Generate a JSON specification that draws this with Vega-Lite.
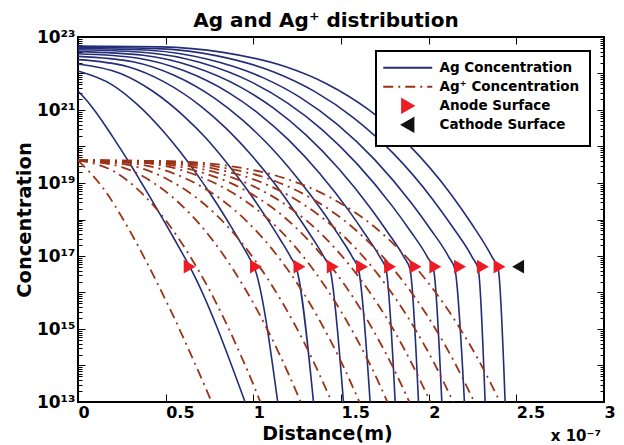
{
"$schema": "https://vega.github.io/schema/vega-lite/v6.json",
"width": 526, "height": 365,
"autosize": {"type": "none"},
"padding": {"left": 78, "top": 37, "right": 20, "bottom": 43},
"background": "white",
"title": {"text": "Ag and Ag⁺ distribution", "font": "DejaVu Sans", "fontSize": 20, "fontWeight": "bold", "color": "black", "dx": -15, "offset": -3},
"datasets": {
"lines": [
{"s":"Ag","k":1,"x":0,"c":3.31e21},{"s":"Ag","k":1,"x":0.05,"c":1.82e21},{"s":"Ag","k":1,"x":0.1,"c":8.91e20},{"s":"Ag","k":1,"x":0.15,"c":4.07e20},{"s":"Ag","k":1,"x":0.2,"c":1.78e20},{"s":"Ag","k":1,"x":0.25,"c":7.59e19},{"s":"Ag","k":1,"x":0.3,"c":3.16e19},{"s":"Ag","k":1,"x":0.35,"c":1.26e19},{"s":"Ag","k":1,"x":0.4,"c":5.01e18},{"s":"Ag","k":1,"x":0.45,"c":1.95e18},{"s":"Ag","k":1,"x":0.5,"c":7.59e17},{"s":"Ag","k":1,"x":0.55,"c":2.88e17},{"s":"Ag","k":1,"x":0.6,"c":1.07e17},{"s":"Ag","k":1,"x":0.637,"c":5.13e16},{"s":"Ag","k":1,"x":0.953,"c":1e13},
{"s":"Ag","k":2,"x":0,"c":1.17e22},{"s":"Ag","k":2,"x":0.195,"c":4.9e21},{"s":"Ag","k":2,"x":0.341,"c":1.38e21},{"s":"Ag","k":2,"x":0.4875,"c":2.57e20},{"s":"Ag","k":2,"x":0.585,"c":6.92e19},{"s":"Ag","k":2,"x":0.6825,"c":1.62e19},{"s":"Ag","k":2,"x":0.78,"c":3.31e18},{"s":"Ag","k":2,"x":0.8775,"c":5.89e17},{"s":"Ag","k":2,"x":0.926,"c":2.4e17},{"s":"Ag","k":2,"x":0.975,"c":9.33e16},{"s":"Ag","k":2,"x":1.01,"c":4.27e16},{"s":"Ag","k":2,"x":1.139,"c":1e13},
{"s":"Ag","k":3,"x":0,"c":1.82e22},{"s":"Ag","k":3,"x":0.2426,"c":1e22},{"s":"Ag","k":3,"x":0.4246,"c":3.31e21},{"s":"Ag","k":3,"x":0.6065,"c":6.61e20},{"s":"Ag","k":3,"x":0.7278,"c":1.74e20},{"s":"Ag","k":3,"x":0.8491,"c":3.55e19},{"s":"Ag","k":3,"x":0.9704,"c":6.03e18},{"s":"Ag","k":3,"x":1.0917,"c":8.32e17},{"s":"Ag","k":3,"x":1.1524,"c":2.88e17},{"s":"Ag","k":3,"x":1.213,"c":9.33e16},{"s":"Ag","k":3,"x":1.248,"c":4.27e16},{"s":"Ag","k":3,"x":1.343,"c":1e13},
{"s":"Ag","k":4,"x":0,"c":2.4e22},{"s":"Ag","k":4,"x":0.2806,"c":1.55e22},{"s":"Ag","k":4,"x":0.491,"c":5.89e21},{"s":"Ag","k":4,"x":0.7015,"c":1.26e21},{"s":"Ag","k":4,"x":0.8418,"c":3.24e20},{"s":"Ag","k":4,"x":0.9821,"c":6.31e19},{"s":"Ag","k":4,"x":1.1224,"c":9.55e18},{"s":"Ag","k":4,"x":1.2627,"c":1.07e18},{"s":"Ag","k":4,"x":1.3329,"c":3.31e17},{"s":"Ag","k":4,"x":1.403,"c":9.33e16},{"s":"Ag","k":4,"x":1.438,"c":4.27e16},{"s":"Ag","k":4,"x":1.514,"c":1e13},
{"s":"Ag","k":5,"x":0,"c":2.95e22},{"s":"Ag","k":5,"x":0.313,"c":2.09e22},{"s":"Ag","k":5,"x":0.5478,"c":8.91e21},{"s":"Ag","k":5,"x":0.7825,"c":2.04e21},{"s":"Ag","k":5,"x":0.939,"c":5.25e20},{"s":"Ag","k":5,"x":1.0955,"c":1e20},{"s":"Ag","k":5,"x":1.252,"c":1.35e19},{"s":"Ag","k":5,"x":1.4085,"c":1.35e18},{"s":"Ag","k":5,"x":1.4868,"c":3.72e17},{"s":"Ag","k":5,"x":1.565,"c":9.33e16},{"s":"Ag","k":5,"x":1.6,"c":4.27e16},{"s":"Ag","k":5,"x":1.666,"c":1e13},
{"s":"Ag","k":6,"x":0,"c":3.47e22},{"s":"Ag","k":6,"x":0.3444,"c":2.63e22},{"s":"Ag","k":6,"x":0.6027,"c":1.2e22},{"s":"Ag","k":6,"x":0.861,"c":2.95e21},{"s":"Ag","k":6,"x":1.0332,"c":7.76e20},{"s":"Ag","k":6,"x":1.2054,"c":1.45e20},{"s":"Ag","k":6,"x":1.3776,"c":1.86e19},{"s":"Ag","k":6,"x":1.5498,"c":1.62e18},{"s":"Ag","k":6,"x":1.6359,"c":4.07e17},{"s":"Ag","k":6,"x":1.722,"c":9.33e16},{"s":"Ag","k":6,"x":1.757,"c":4.27e16},{"s":"Ag","k":6,"x":1.809,"c":1e13},
{"s":"Ag","k":7,"x":0,"c":3.98e22},{"s":"Ag","k":7,"x":0.3718,"c":3.16e22},{"s":"Ag","k":7,"x":0.6507,"c":1.58e22},{"s":"Ag","k":7,"x":0.9295,"c":4.17e21},{"s":"Ag","k":7,"x":1.1154,"c":1.12e21},{"s":"Ag","k":7,"x":1.3013,"c":2.04e20},{"s":"Ag","k":7,"x":1.4872,"c":2.45e19},{"s":"Ag","k":7,"x":1.6731,"c":1.91e18},{"s":"Ag","k":7,"x":1.7661,"c":4.47e17},{"s":"Ag","k":7,"x":1.859,"c":9.33e16},{"s":"Ag","k":7,"x":1.894,"c":4.27e16},{"s":"Ag","k":7,"x":1.942,"c":1e13},
{"s":"Ag","k":8,"x":0,"c":4.47e22},{"s":"Ag","k":8,"x":0.3986,"c":3.72e22},{"s":"Ag","k":8,"x":0.6976,"c":2e22},{"s":"Ag","k":8,"x":0.9965,"c":5.62e21},{"s":"Ag","k":8,"x":1.1958,"c":1.55e21},{"s":"Ag","k":8,"x":1.3951,"c":2.82e20},{"s":"Ag","k":8,"x":1.5944,"c":3.24e19},{"s":"Ag","k":8,"x":1.7937,"c":2.29e18},{"s":"Ag","k":8,"x":1.8934,"c":5.01e17},{"s":"Ag","k":8,"x":1.993,"c":9.33e16},{"s":"Ag","k":8,"x":2.028,"c":4.27e16},{"s":"Ag","k":8,"x":2.075,"c":1e13},
{"s":"Ag","k":9,"x":0,"c":4.9e22},{"s":"Ag","k":9,"x":0.423,"c":4.27e22},{"s":"Ag","k":9,"x":0.7403,"c":2.45e22},{"s":"Ag","k":9,"x":1.0575,"c":7.59e21},{"s":"Ag","k":9,"x":1.269,"c":2.19e21},{"s":"Ag","k":9,"x":1.4805,"c":3.98e20},{"s":"Ag","k":9,"x":1.692,"c":4.37e19},{"s":"Ag","k":9,"x":1.9035,"c":2.75e18},{"s":"Ag","k":9,"x":2.0093,"c":5.5e17},{"s":"Ag","k":9,"x":2.115,"c":9.33e16},{"s":"Ag","k":9,"x":2.15,"c":4.27e16},{"s":"Ag","k":9,"x":2.204,"c":1e13},
{"s":"Ag","k":10,"x":0,"c":5.25e22},{"s":"Ag","k":10,"x":0.4496,"c":4.79e22},{"s":"Ag","k":10,"x":0.7868,"c":3.09e22},{"s":"Ag","k":10,"x":1.124,"c":1.07e22},{"s":"Ag","k":10,"x":1.3488,"c":3.24e21},{"s":"Ag","k":10,"x":1.5736,"c":6.03e20},{"s":"Ag","k":10,"x":1.7984,"c":6.46e19},{"s":"Ag","k":10,"x":2.0232,"c":3.55e18},{"s":"Ag","k":10,"x":2.1356,"c":6.31e17},{"s":"Ag","k":10,"x":2.248,"c":9.33e16},{"s":"Ag","k":10,"x":2.283,"c":4.27e16},{"s":"Ag","k":10,"x":2.322,"c":1e13},
{"s":"Ag","k":11,"x":0,"c":5.62e22},{"s":"Ag","k":11,"x":0.4724,"c":5.37e22},{"s":"Ag","k":11,"x":0.8267,"c":3.8e22},{"s":"Ag","k":11,"x":1.181,"c":1.55e22},{"s":"Ag","k":11,"x":1.4172,"c":5.25e21},{"s":"Ag","k":11,"x":1.6534,"c":1.05e21},{"s":"Ag","k":11,"x":1.8896,"c":1.07e20},{"s":"Ag","k":11,"x":2.1258,"c":5.01e18},{"s":"Ag","k":11,"x":2.2439,"c":7.76e17},{"s":"Ag","k":11,"x":2.362,"c":9.33e16},{"s":"Ag","k":11,"x":2.397,"c":4.27e16},{"s":"Ag","k":11,"x":2.436,"c":1e13},
{"s":"Ag+","k":1,"x":0,"c":4.17e19},{"s":"Ag+","k":1,"x":0.1524,"c":6.31e18},{"s":"Ag+","k":1,"x":0.2667,"c":8.51e17},{"s":"Ag+","k":1,"x":0.381,"c":8.51e16},{"s":"Ag+","k":1,"x":0.4572,"c":1.62e16},{"s":"Ag+","k":1,"x":0.5334,"c":2.88e15},{"s":"Ag+","k":1,"x":0.6096,"c":4.68e14},{"s":"Ag+","k":1,"x":0.6858,"c":7.08e13},{"s":"Ag+","k":1,"x":0.7239,"c":2.69e13},{"s":"Ag+","k":1,"x":0.762,"c":1e13},
{"s":"Ag+","k":2,"x":0,"c":4.17e19},{"s":"Ag+","k":2,"x":0.208,"c":2.04e19},{"s":"Ag+","k":2,"x":0.364,"c":5.25e18},{"s":"Ag+","k":2,"x":0.52,"c":7.08e17},{"s":"Ag+","k":2,"x":0.624,"c":1.29e17},{"s":"Ag+","k":2,"x":0.728,"c":1.82e16},{"s":"Ag+","k":2,"x":0.832,"c":1.95e15},{"s":"Ag+","k":2,"x":0.936,"c":1.58e14},{"s":"Ag+","k":2,"x":0.988,"c":4.17e13},{"s":"Ag+","k":2,"x":1.04,"c":1e13},
{"s":"Ag+","k":3,"x":0,"c":4.17e19},{"s":"Ag+","k":3,"x":0.254,"c":2.69e19},{"s":"Ag+","k":3,"x":0.4445,"c":9.12e18},{"s":"Ag+","k":3,"x":0.635,"c":1.51e18},{"s":"Ag+","k":3,"x":0.762,"c":2.95e17},{"s":"Ag+","k":3,"x":0.889,"c":3.98e16},{"s":"Ag+","k":3,"x":1.016,"c":3.72e15},{"s":"Ag+","k":3,"x":1.143,"c":2.34e14},{"s":"Ag+","k":3,"x":1.2065,"c":5.13e13},{"s":"Ag+","k":3,"x":1.27,"c":1e13},
{"s":"Ag+","k":4,"x":0,"c":4.17e19},{"s":"Ag+","k":4,"x":0.2894,"c":3.09e19},{"s":"Ag+","k":4,"x":0.5065,"c":1.29e19},{"s":"Ag+","k":4,"x":0.7235,"c":2.57e18},{"s":"Ag+","k":4,"x":0.8682,"c":5.37e17},{"s":"Ag+","k":4,"x":1.0129,"c":7.24e16},{"s":"Ag+","k":4,"x":1.1576,"c":6.17e15},{"s":"Ag+","k":4,"x":1.3023,"c":3.24e14},{"s":"Ag+","k":4,"x":1.3747,"c":6.03e13},{"s":"Ag+","k":4,"x":1.447,"c":1e13},
{"s":"Ag+","k":5,"x":0,"c":4.17e19},{"s":"Ag+","k":5,"x":0.321,"c":3.39e19},{"s":"Ag+","k":5,"x":0.5618,"c":1.7e19},{"s":"Ag+","k":5,"x":0.8025,"c":3.98e18},{"s":"Ag+","k":5,"x":0.963,"c":8.91e17},{"s":"Ag+","k":5,"x":1.1235,"c":1.23e17},{"s":"Ag+","k":5,"x":1.284,"c":1e16},{"s":"Ag+","k":5,"x":1.4445,"c":4.37e14},{"s":"Ag+","k":5,"x":1.5248,"c":7.24e13},{"s":"Ag+","k":5,"x":1.605,"c":1e13},
{"s":"Ag+","k":6,"x":0,"c":4.17e19},{"s":"Ag+","k":6,"x":0.353,"c":3.63e19},{"s":"Ag+","k":6,"x":0.6178,"c":2.04e19},{"s":"Ag+","k":6,"x":0.8825,"c":5.37e18},{"s":"Ag+","k":6,"x":1.059,"c":1.32e18},{"s":"Ag+","k":6,"x":1.2355,"c":1.86e17},{"s":"Ag+","k":6,"x":1.412,"c":1.41e16},{"s":"Ag+","k":6,"x":1.5885,"c":5.5e14},{"s":"Ag+","k":6,"x":1.6768,"c":8.32e13},{"s":"Ag+","k":6,"x":1.765,"c":1e13},
{"s":"Ag+","k":7,"x":0,"c":4.17e19},{"s":"Ag+","k":7,"x":0.378,"c":3.72e19},{"s":"Ag+","k":7,"x":0.6615,"c":2.24e19},{"s":"Ag+","k":7,"x":0.945,"c":6.61e18},{"s":"Ag+","k":7,"x":1.134,"c":1.7e18},{"s":"Ag+","k":7,"x":1.323,"c":2.45e17},{"s":"Ag+","k":7,"x":1.512,"c":1.86e16},{"s":"Ag+","k":7,"x":1.701,"c":6.61e14},{"s":"Ag+","k":7,"x":1.7955,"c":9.12e13},{"s":"Ag+","k":7,"x":1.89,"c":1e13},
{"s":"Ag+","k":8,"x":0,"c":4.17e19},{"s":"Ag+","k":8,"x":0.402,"c":3.8e19},{"s":"Ag+","k":8,"x":0.7035,"c":2.45e19},{"s":"Ag+","k":8,"x":1.005,"c":7.94e18},{"s":"Ag+","k":8,"x":1.206,"c":2.14e18},{"s":"Ag+","k":8,"x":1.407,"c":3.24e17},{"s":"Ag+","k":8,"x":1.608,"c":2.4e16},{"s":"Ag+","k":8,"x":1.809,"c":7.94e14},{"s":"Ag+","k":8,"x":1.9095,"c":1e14},{"s":"Ag+","k":8,"x":2.01,"c":1e13},
{"s":"Ag+","k":9,"x":0,"c":4.17e19},{"s":"Ag+","k":9,"x":0.428,"c":3.89e19},{"s":"Ag+","k":9,"x":0.749,"c":2.63e19},{"s":"Ag+","k":9,"x":1.07,"c":9.33e18},{"s":"Ag+","k":9,"x":1.284,"c":2.63e18},{"s":"Ag+","k":9,"x":1.498,"c":4.17e17},{"s":"Ag+","k":9,"x":1.712,"c":3.09e16},{"s":"Ag+","k":9,"x":1.926,"c":9.33e14},{"s":"Ag+","k":9,"x":2.033,"c":1.12e14},{"s":"Ag+","k":9,"x":2.14,"c":1e13},
{"s":"Ag+","k":10,"x":0,"c":4.17e19},{"s":"Ag+","k":10,"x":0.452,"c":3.98e19},{"s":"Ag+","k":10,"x":0.791,"c":2.82e19},{"s":"Ag+","k":10,"x":1.13,"c":1.1e19},{"s":"Ag+","k":10,"x":1.356,"c":3.24e18},{"s":"Ag+","k":10,"x":1.582,"c":5.25e17},{"s":"Ag+","k":10,"x":1.808,"c":3.89e16},{"s":"Ag+","k":10,"x":2.034,"c":1.1e15},{"s":"Ag+","k":10,"x":2.147,"c":1.23e14},{"s":"Ag+","k":10,"x":2.26,"c":1e13},
{"s":"Ag+","k":11,"x":0,"c":4.17e19},{"s":"Ag+","k":11,"x":0.4814,"c":3.98e19},{"s":"Ag+","k":11,"x":0.8425,"c":3.02e19},{"s":"Ag+","k":11,"x":1.2035,"c":1.23e19},{"s":"Ag+","k":11,"x":1.4442,"c":3.89e18},{"s":"Ag+","k":11,"x":1.6849,"c":6.61e17},{"s":"Ag+","k":11,"x":1.9256,"c":4.9e16},{"s":"Ag+","k":11,"x":2.1663,"c":1.29e15},{"s":"Ag+","k":11,"x":2.2867,"c":1.35e14},{"s":"Ag+","k":11,"x":2.407,"c":1e13}
],
"markers": [
{"s":"Anode","x":0.637,"c":5.1e16},{"s":"Anode","x":1.015,"c":5.1e16},{"s":"Anode","x":1.263,"c":5.1e16},{"s":"Anode","x":1.453,"c":5.1e16},{"s":"Anode","x":1.62,"c":5.1e16},{"s":"Anode","x":1.78,"c":5.1e16},{"s":"Anode","x":1.925,"c":5.1e16},{"s":"Anode","x":2.038,"c":5.1e16},{"s":"Anode","x":2.179,"c":5.1e16},{"s":"Anode","x":2.309,"c":5.1e16},{"s":"Anode","x":2.404,"c":5.1e16},
{"s":"Cathode","x":2.51,"c":5.1e16}
]
},
"layer": [
{
"data": {"name": "lines"},
"transform": [{"filter": "datum.s == 'Ag'"}],
"mark": {"type": "line", "strokeWidth": 1.6, "interpolate": "monotone", "clip": true},
"encoding": {
"x": {"field": "x", "type": "quantitative", "scale": {"domain": [0, 3], "nice": false, "zero": false},
 "axis": {"orient": "bottom", "values": [0, 0.5, 1, 1.5, 2, 2.5, 3], "format": "~g", "labelFont": "DejaVu Sans", "labelFontSize": 16, "labelFontWeight": "bold", "labelAlign": "left", "labelPadding": 10, "labelFlush": false, "labelOverlap": false, "tickSize": -8, "tickWidth": 1, "title": "Distance(m)", "titleFont": "DejaVu Sans", "titleFontSize": 19, "titleFontWeight": "bold", "titlePadding": 4, "titleX": 249}},
"y": {"field": "c", "type": "quantitative", "scale": {"type": "log", "domain": [1e13, 1e23], "nice": false},
 "axis": {"orient": "left", "values": [1e13,2e13,3e13,4e13,5e13,6e13,7e13,8e13,9e13,1e14,2e14,3e14,4e14,5e14,6e14,7e14,8e14,9e14,1e15,2e15,3e15,4e15,5e15,6e15,7e15,8e15,9e15,1e16,2e16,3e16,4e16,5e16,6e16,7e16,8e16,9e16,1e17,2e17,3e17,4e17,5e17,6e17,7e17,8e17,9e17,1e18,2e18,3e18,4e18,5e18,6e18,7e18,8e18,9e18,1e19,2e19,3e19,4e19,5e19,6e19,7e19,8e19,9e19,1e20,2e20,3e20,4e20,5e20,6e20,7e20,8e20,9e20,1e21,2e21,3e21,4e21,5e21,6e21,7e21,8e21,9e21,1e22,2e22,3e22,4e22,5e22,6e22,7e22,8e22,9e22,1e23],
  "labelExpr": "datum.value == 1e13 ? '10¹³' : datum.value == 1e15 ? '10¹⁵' : datum.value == 1e17 ? '10¹⁷' : datum.value == 1e19 ? '10¹⁹' : datum.value == 1e21 ? '10²¹' : datum.value == 1e23 ? '10²³' : ''",
  "labelFont": "DejaVu Sans", "labelFontSize": 17, "labelFontWeight": "bold", "labelPadding": 10, "labelOverlap": false, "labelBound": false, "labelFlush": false,
  "tickSize": {"condition": {"test": "abs(log(datum.value)/LN10 - round(log(datum.value)/LN10)) < 0.001", "value": -7}, "value": -4},
  "tickWidth": 1,
  "title": "Concentration", "titleFont": "DejaVu Sans", "titleFontSize": 19.5, "titleFontWeight": "bold", "titlePadding": 2}},
"color": {"field": "s", "type": "nominal",
 "scale": {"domain": ["Ag", "Ag+", "Anode", "Cathode"], "range": ["#232d78", "#9c3316", "#ed1c24", "#111111"]},
 "legend": {"title": null, "orient": "top-right", "offset": 14, "padding": 10,
  "labelFont": "DejaVu Sans", "labelFontSize": 13.5, "labelFontWeight": "bold", "labelColor": "black", "labelLimit": 300,
  "labelExpr": "datum.label == 'Ag' ? 'Ag Concentration' : datum.label == 'Ag+' ? 'Ag⁺ Concentration' : datum.label == 'Anode' ? 'Anode Surface' : 'Cathode Surface'",
  "symbolSize": 100, "rowPadding": -3, "symbolOffset": 15, "labelOffset": 25, "gridAlign": "all",
  "fillColor": "white", "strokeColor": "black",
  "encode": {
   "legend": {"update": {"strokeWidth": {"value": 2}}},
   "symbols": {"update": {
    "shape": {"signal": "datum.value == 'Anode' ? 'triangle-right' : datum.value == 'Cathode' ? 'triangle-left' : 'M-4.9,0H4.9'"},
    "size": {"signal": "datum.value == 'Anode' || datum.value == 'Cathode' ? 170 : 100"},
    "fill": {"signal": "datum.value == 'Anode' ? '#ed1c24' : datum.value == 'Cathode' ? '#111111' : 'transparent'"},
    "stroke": {"signal": "datum.value == 'Ag' ? '#232d78' : datum.value == 'Ag+' ? '#9c3316' : 'transparent'"},
    "strokeWidth": {"value": 2},
    "strokeDash": {"signal": "datum.value == 'Ag+' ? [10,5,2,5] : [1,0]"},
    "opacity": {"value": 1}
   }}
  }}},
"detail": {"field": "k", "type": "nominal"}
}
},
{
"data": {"name": "lines"},
"transform": [{"filter": "datum.s == 'Ag+'"}],
"mark": {"type": "line", "strokeWidth": 1.8, "strokeDash": [10, 5, 2, 5], "interpolate": "monotone", "clip": true},
"encoding": {
"x": {"field": "x", "type": "quantitative", "scale": {"domain": [0, 3], "nice": false, "zero": false}, "axis": null},
"y": {"field": "c", "type": "quantitative", "scale": {"type": "log", "domain": [1e13, 1e23], "nice": false}, "axis": null},
"color": {"field": "s", "type": "nominal"},
"detail": {"field": "k", "type": "nominal"}
}
},
{
"data": {"name": "markers"},
"transform": [{"filter": "datum.s == 'Anode'"}],
"mark": {"type": "point", "shape": "triangle-right", "filled": true, "size": 190, "opacity": 1, "strokeWidth": 0},
"encoding": {
"x": {"field": "x", "type": "quantitative", "scale": {"domain": [0, 3], "nice": false, "zero": false}, "axis": null},
"y": {"field": "c", "type": "quantitative", "scale": {"type": "log", "domain": [1e13, 1e23], "nice": false}, "axis": null},
"color": {"field": "s", "type": "nominal"}
}
},
{
"data": {"name": "markers"},
"transform": [{"filter": "datum.s == 'Cathode'"}],
"mark": {"type": "point", "shape": "triangle-left", "filled": true, "size": 190, "opacity": 1, "strokeWidth": 0},
"encoding": {
"x": {"field": "x", "type": "quantitative", "scale": {"domain": [0, 3], "nice": false, "zero": false},
 "axis": {"orient": "top", "values": [0, 0.5, 1, 1.5, 2, 2.5, 3], "labels": false, "title": null, "tickSize": -7, "tickWidth": 1}},
"y": {"field": "c", "type": "quantitative", "scale": {"type": "log", "domain": [1e13, 1e23], "nice": false},
 "axis": {"orient": "right", "labels": false, "title": null, "tickWidth": 1,
  "values": [1e13,2e13,3e13,4e13,5e13,6e13,7e13,8e13,9e13,1e14,2e14,3e14,4e14,5e14,6e14,7e14,8e14,9e14,1e15,2e15,3e15,4e15,5e15,6e15,7e15,8e15,9e15,1e16,2e16,3e16,4e16,5e16,6e16,7e16,8e16,9e16,1e17,2e17,3e17,4e17,5e17,6e17,7e17,8e17,9e17,1e18,2e18,3e18,4e18,5e18,6e18,7e18,8e18,9e18,1e19,2e19,3e19,4e19,5e19,6e19,7e19,8e19,9e19,1e20,2e20,3e20,4e20,5e20,6e20,7e20,8e20,9e20,1e21,2e21,3e21,4e21,5e21,6e21,7e21,8e21,9e21,1e22,2e22,3e22,4e22,5e22,6e22,7e22,8e22,9e22,1e23],
  "tickSize": {"condition": {"test": "abs(log(datum.value)/LN10 - round(log(datum.value)/LN10)) < 0.001", "value": -7}, "value": -4}}},
"color": {"field": "s", "type": "nominal"}
}
},
{
"data": {"values": [{}]},
"mark": {"type": "text", "align": "right", "baseline": "alphabetic", "dy": 39, "dx": -3, "font": "DejaVu Sans", "fontSize": 15, "fontWeight": "bold", "color": "black"},
"encoding": {
"x": {"datum": 3, "type": "quantitative", "scale": {"domain": [0, 3], "nice": false, "zero": false}, "axis": null},
"y": {"datum": 1e13, "type": "quantitative", "scale": {"type": "log", "domain": [1e13, 1e23], "nice": false}, "axis": null},
"text": {"value": "x 10⁻⁷"}
}
}
],
"resolve": {"axis": {"x": "independent", "y": "independent"}},
"config": {
"view": {"stroke": "black", "strokeWidth": 2},
"axis": {"domain": false, "grid": false, "tickColor": "black", "labelColor": "black", "titleColor": "black"}
}
}
